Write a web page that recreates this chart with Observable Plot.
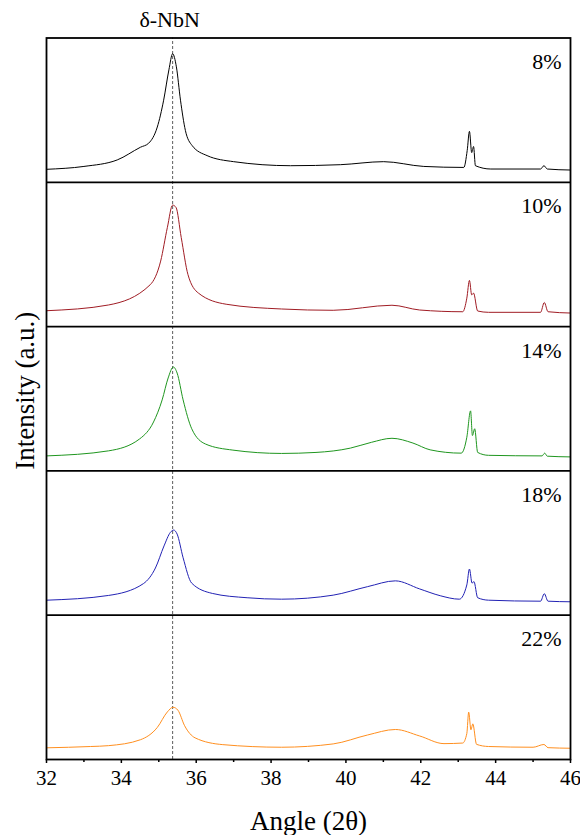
<!DOCTYPE html>
<html>
<head>
<meta charset="utf-8">
<script src="https://cdn.jsdelivr.net/npm/d3@7"></script>
<script src="https://cdn.jsdelivr.net/npm/@observablehq/plot@0.6"></script>
<style>
  html, body { margin: 0; padding: 0; background: #fff; }
  #chart svg { display: block; }
  #chart svg, #chart svg text { font-family: "Liberation Serif", "Times New Roman", serif !important; }
</style>
</head>
<body>
<div id="chart"></div>
<script>
// Sample labels (top to bottom) and line colours
const samples = ["8%", "10%", "14%", "18%", "22%"];
const colors = ["#000000", "#a01c24", "#1f961f", "#2222b4", "#ff8f1f"];

// Angle (2θ) / normalized intensity (fraction of panel height)
const a8  = [32.0, 33.0, 33.89, 34.51, 34.73, 34.96, 35.13, 35.27, 35.37, 35.47, 35.58, 35.71, 35.89, 36.29, 37.0, 38.52, 39.85, 41.01, 42.08, 43.15, 43.24, 43.30, 43.36, 43.41, 43.46, 43.87, 45.2, 45.29, 45.38, 46.0];
const v8  = [0.09, 0.11, 0.155, 0.243, 0.271, 0.383, 0.569, 0.779, 0.891, 0.80, 0.569, 0.36, 0.255, 0.185, 0.143, 0.115, 0.122, 0.143, 0.11, 0.103, 0.22, 0.353, 0.206, 0.248, 0.115, 0.092, 0.092, 0.115, 0.092, 0.085];

const a10 = [32.0, 33.66, 34.77, 35.05, 35.23, 35.37, 35.46, 35.60, 35.78, 36.06, 36.80, 38.28, 39.66, 41.23, 41.97, 43.12, 43.23, 43.30, 43.36, 43.41, 43.52, 43.81, 45.20, 45.30, 45.40, 46.0];
const v10 = [0.11, 0.15, 0.29, 0.454, 0.688, 0.842, 0.826, 0.617, 0.36, 0.232, 0.155, 0.122, 0.113, 0.148, 0.115, 0.103, 0.197, 0.32, 0.22, 0.232, 0.108, 0.099, 0.099, 0.167, 0.103, 0.094];

const a14 = [32.0, 33.66, 34.49, 34.86, 35.09, 35.25, 35.39, 35.49, 35.65, 35.88, 36.25, 36.98, 38.28, 39.2, 40.12, 40.68, 41.23, 41.79, 42.25, 43.08, 43.23, 43.33, 43.38, 43.44, 43.52, 43.81, 45.24, 45.31, 45.38, 46.0];
const v14 = [0.104, 0.139, 0.222, 0.339, 0.492, 0.644, 0.72, 0.678, 0.492, 0.292, 0.186, 0.144, 0.121, 0.128, 0.158, 0.198, 0.226, 0.193, 0.146, 0.123, 0.233, 0.416, 0.245, 0.292, 0.128, 0.108, 0.104, 0.123, 0.102, 0.097];

const a18 = [32.0, 33.66, 34.59, 34.91, 35.14, 35.31, 35.40, 35.49, 35.65, 35.88, 36.43, 37.36, 38.28, 39.66, 40.58, 41.32, 41.97, 42.52, 43.03, 43.23, 43.30, 43.37, 43.42, 43.52, 43.81, 45.2, 45.3, 45.4, 46.0];
const v18 = [0.104, 0.137, 0.219, 0.327, 0.48, 0.574, 0.59, 0.562, 0.398, 0.222, 0.151, 0.121, 0.111, 0.139, 0.198, 0.238, 0.182, 0.135, 0.111, 0.21, 0.32, 0.222, 0.233, 0.121, 0.104, 0.097, 0.149, 0.097, 0.093];

const a22 = [32.0, 33.18, 33.66, 34.51, 34.96, 35.23, 35.38, 35.51, 35.69, 35.97, 36.71, 38.28, 39.66, 40.58, 41.32, 41.97, 42.62, 43.12, 43.23, 43.28, 43.34, 43.39, 43.49, 43.81, 45.0, 45.29, 45.4, 46.0];
const v22 = [0.081, 0.09, 0.096, 0.137, 0.222, 0.33, 0.362, 0.342, 0.234, 0.15, 0.103, 0.085, 0.108, 0.17, 0.208, 0.163, 0.11, 0.114, 0.18, 0.328, 0.206, 0.247, 0.105, 0.09, 0.085, 0.104, 0.082, 0.078];

const angles = [a8, a10, a14, a18, a22];
const values = [v8, v10, v14, v18, v22];

// Axis ticks and reference line
const majorTicks = [32, 34, 36, 38, 40, 42, 44, 46];
const minorTicks = [33, 35, 37, 39, 41, 43, 45];
const nbnAngle = 35.37;

// Build a long table: panel i (from top) is stacked with offset 4 - i
const rows = [];
samples.forEach((s, i) => {
  angles[i].forEach((a, j) => rows.push({sample: s, angle: a, y: (samples.length - 1 - i) + values[i][j]}));
});
const labels = samples.map((s, i) => ({sample: s, y: (samples.length - 1 - i) + 0.834}));

const serif = "'Liberation Serif', 'Times New Roman', serif";

const chart = Plot.plot({
  width: 580,
  height: 835,
  marginLeft: 46,
  marginRight: 10,
  marginTop: 37.5,
  marginBottom: 76,
  style: {fontFamily: serif, background: "#fff", color: "#000"},
  x: {domain: [32, 46]},
  y: {domain: [0, 5], axis: null},
  color: {domain: samples, range: colors},
  marks: [
    Plot.ruleX([nbnAngle], {y1: 0, y2: 5, stroke: "#333", strokeWidth: 0.8, strokeDasharray: "3,2"}),
    Plot.line(rows, {x: "angle", y: "y", z: "sample", stroke: "sample", strokeWidth: 1, curve: "monotone-x"}),
    Plot.ruleY([1, 2, 3, 4], {stroke: "#000", strokeWidth: 1.8}),
    Plot.frame({stroke: "#000", strokeWidth: 1.8}),
    Plot.text(labels, {x: 46, y: "y", text: "sample", textAnchor: "end", dx: -9, fontSize: 22, fontFamily: serif, fill: "#000"}),
    Plot.text(["δ-NbN"], {x: nbnAngle, y: 5, text: d => d, dy: -18, dx: -3, fontSize: 22, fontFamily: serif, fill: "#000"}),
    Plot.axisX({ticks: majorTicks, tickSize: 4, tickPadding: 7, fontSize: 21, fontFamily: serif, tickFormat: d => d, label: null, strokeWidth: 1.5}),
    Plot.axisX({ticks: minorTicks, tickSize: 3, tickFormat: () => "", label: null, strokeWidth: 1.5}),
    Plot.text(["Angle (2θ)"], {frameAnchor: "bottom", text: d => d, lineAnchor: "top", dy: 51, fontSize: 27, fontFamily: serif, fill: "#000"}),
    Plot.text(["Intensity (a.u.)"], {frameAnchor: "left", text: d => d, rotate: -90, textAnchor: "middle", dx: -21, dy: -8, fontSize: 27, fontFamily: serif, fill: "#000"})
  ]
});
document.getElementById("chart").appendChild(chart);
</script>
</body>
</html>
